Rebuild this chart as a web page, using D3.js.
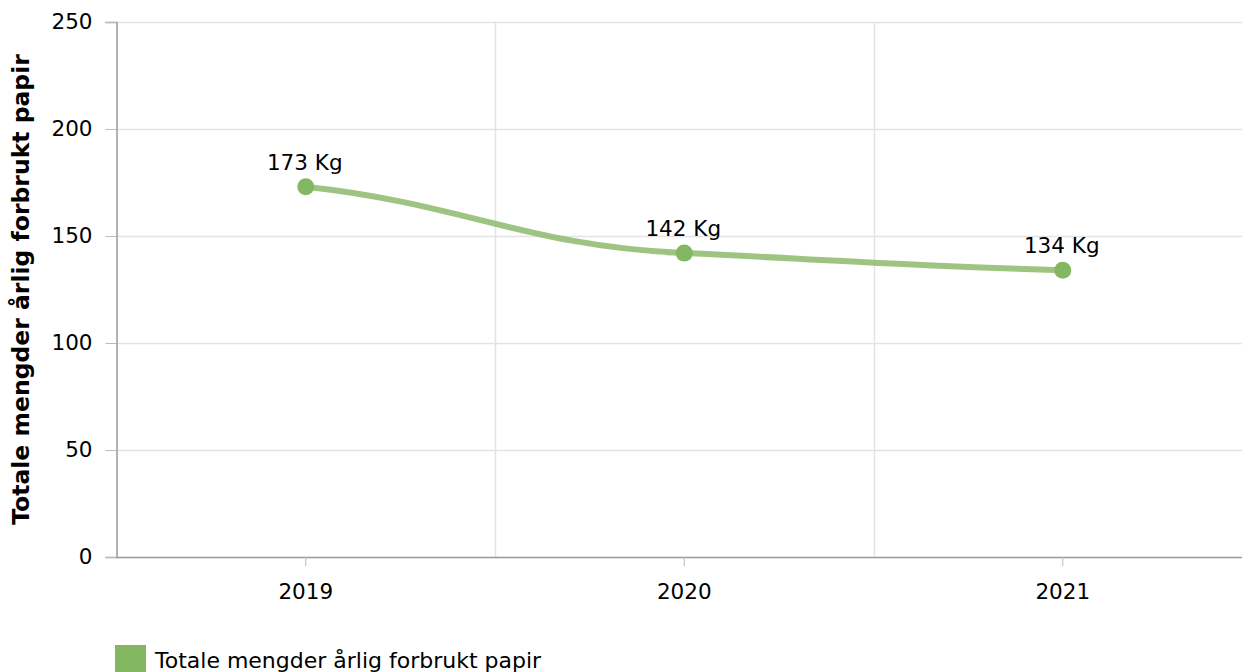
<!DOCTYPE html>
<html><head><meta charset="utf-8">
<script src="https://cdn.jsdelivr.net/npm/d3@7"></script>
<style>body{margin:0;background:#fff;}svg{display:block;font-family:Verdana,"DejaVu Sans",sans-serif;}</style>
</head><body>
<svg id="c" width="1242" height="672"></svg>
<script>
const categories = ["2019", "2020", "2021"];
const values = [173, 142, 134];
const labels = ["173 Kg", "142 Kg", "134 Kg"];
const yTicks = [0, 50, 100, 150, 200, 250];
const seriesName = "Totale mengder årlig forbrukt papir";
const yTitle = "Totale mengder årlig forbrukt papir";

(function () {
const FONT = "Verdana, 'DejaVu Sans', sans-serif";
const svg = d3.select("#c");
const pLeft = 116.5, pTop = 22, pBottom = 557, pRight = 1252;
const x = d3.scaleBand().domain(categories).range([pLeft, pRight]);
const y = d3.scaleLinear().domain([0, 250]).range([pBottom, pTop]);

const g = svg.append("g");
g.selectAll(".hg").data(yTicks.filter(d => d > 0)).enter().append("line")
  .attr("x1", pLeft).attr("x2", 1242).attr("y1", d => Math.round(y(d)) + 0.5).attr("y2", d => Math.round(y(d)) + 0.5)
  .attr("stroke", "#e3e3e3").attr("stroke-width", 1.5);
g.selectAll(".vg").data(categories.slice(1)).enter().append("line")
  .attr("x1", d => Math.round(x(d)) + 0.5).attr("x2", d => Math.round(x(d)) + 0.5)
  .attr("y1", pTop).attr("y2", pBottom).attr("stroke", "#e3e3e3").attr("stroke-width", 1.5);

const ya = svg.append("g").attr("transform", `translate(${pLeft},0)`)
  .call(d3.axisLeft(y).tickValues(yTicks).tickSize(11).tickPadding(13));
ya.attr("font-size", null).attr("font-family", null);
ya.select(".domain").attr("stroke", "#999").attr("stroke-width", 1.5);
ya.selectAll(".tick line").attr("stroke", "#bbb");
ya.selectAll("text").style("font-size", "21.5px").attr("fill", "#000").style("font-family", FONT);

const xa = svg.append("g").attr("transform", `translate(0,${pBottom})`)
  .call(d3.axisBottom(x).tickSize(9).tickPadding(18).tickSizeOuter(0));
xa.attr("font-size", null).attr("font-family", null);
xa.select(".domain").attr("stroke", "#999").attr("stroke-width", 1.5).attr("d", `M${pLeft},0.5H1242`);
xa.selectAll(".tick line").attr("stroke", "#bbb");
xa.selectAll("text").style("font-size", "21.5px").attr("fill", "#000").style("font-family", FONT);

const data = categories.map((c, i) => ({c, v: values[i], l: labels[i]}));
const pts = data.map(d => [x(d.c) + x.bandwidth() / 2, y(d.v)]);

// smoothed line: cubic segments, tangents derived from the data secants
function smoothPath(p) {
  const n = p.length, s = [], m = [];
  for (let i = 0; i < n - 1; i++) s.push((p[i + 1][1] - p[i][1]) / (p[i + 1][0] - p[i][0]));
  for (let i = 0; i < n; i++) {
    if (i === 0) m.push(0.62 * s[0]);
    else if (i === n - 1) m.push(0.62 * s[n - 2]);
    else m.push(s[i - 1] * s[i] <= 0 ? 0 : Math.sign(s[i]) * Math.min(Math.abs(s[i - 1]), Math.abs(s[i])));
  }
  const path = d3.path();
  path.moveTo(p[0][0], p[0][1]);
  const c = 0.42;
  for (let i = 0; i < n - 1; i++) {
    const h = p[i + 1][0] - p[i][0];
    path.bezierCurveTo(p[i][0] + c * h, p[i][1] + m[i] * c * h,
                       p[i + 1][0] - c * h, p[i + 1][1] - m[i + 1] * c * h,
                       p[i + 1][0], p[i + 1][1]);
  }
  return path.toString();
}
svg.append("path").attr("d", smoothPath(pts)).attr("fill", "none")
  .attr("stroke", "#84b761").attr("stroke-opacity", 0.8).attr("stroke-width", 6).attr("stroke-linecap", "round");
svg.selectAll(".pt").data(data).enter().append("circle")
  .attr("cx", d => x(d.c) + x.bandwidth() / 2).attr("cy", d => y(d.v)).attr("r", 8.5).attr("fill", "#84b761");
svg.selectAll(".lb").data(data).enter().append("text")
  .attr("x", d => x(d.c) + x.bandwidth() / 2 - 1).attr("y", d => y(d.v) - 17)
  .attr("text-anchor", "middle").style("font-size", "21.5px").style("font-family", FONT).attr("fill", "#000").text(d => d.l);

svg.append("text").attr("transform", `translate(29,${(pTop + pBottom) / 2}) rotate(-90)`)
  .attr("text-anchor", "middle").style("font-size", "23.5px").style("font-family", FONT).attr("font-weight", "bold").attr("fill", "#000").text(yTitle);

svg.append("rect").attr("x", 115).attr("y", 645).attr("width", 31).attr("height", 28).attr("fill", "#84b761");
svg.append("text").attr("x", 155).attr("y", 668).style("font-size", "22px").style("font-family", FONT).attr("fill", "#000").text(seriesName);
})();
</script>
</body></html>
